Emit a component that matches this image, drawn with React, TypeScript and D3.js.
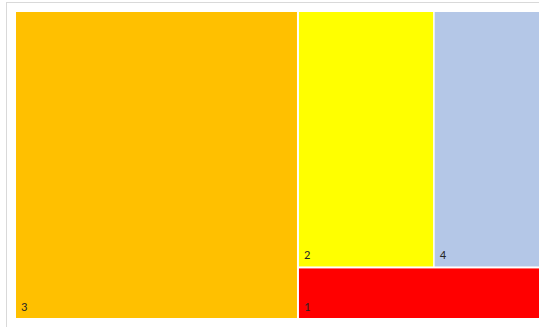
import React from "react";
import * as d3 from "d3";

// Category names, their values and fill colours
const categories = ["3", "2", "4", "1"];
const values = [50, 20, 17.3, 7.5];
const colors = ["#FFC000", "#FFFF00", "#B4C7E7", "#FF0000"];

type Node = { name: string; value?: number; color?: string; children?: Node[] };

const leaf = (i: number): Node => ({ name: categories[i], value: values[i], color: colors[i] });

// Nested grouping: 3 | ((2 | 4) / 1), laid out with alternating slice/dice
const data: Node = {
  name: "root",
  children: [leaf(0), { name: "right", children: [{ name: "top", children: [leaf(1), leaf(2)] }, leaf(3)] }],
};

export default function App() {
  const W = 539;
  const H = 327;
  const plot = { x0: 16, y0: 12, x1: 550.5, y1: 318 };

  const root = d3
    .hierarchy<Node>(data)
    .sum((d) => d.value ?? 0);

  d3
    .treemap<Node>()
    .tile(d3.treemapSliceDice)
    .size([plot.x1 - plot.x0, plot.y1 - plot.y0])
    .paddingInner((d) => (d.data.name === "top" ? 1.5 : 2))(root);

  const leaves = root.leaves() as d3.HierarchyRectangularNode<Node>[];

  return (
    <svg
      width={W}
      height={H}
      style={{ position: "fixed", left: 0, top: 0, background: "#fff" }}
    >
      <rect x={6.5} y={2.5} width={560} height={340} fill="#fff" stroke="#D9D9D9" strokeWidth={1} />
      <g transform={`translate(${plot.x0},${plot.y0})`}>
        {leaves.map((n) => (
          <g key={n.data.name}>
            <rect x={n.x0} y={n.y0} width={n.x1 - n.x0} height={n.y1 - n.y0} fill={n.data.color} />
            <text
              x={n.x0 + 5}
              y={n.y1 - 7}
              fontFamily="Carlito, 'Liberation Sans', 'DejaVu Sans', sans-serif"
              fontSize={12.5}
              fill="#262626"
            >
              {n.data.name}
            </text>
          </g>
        ))}
      </g>
    </svg>
  );
}
